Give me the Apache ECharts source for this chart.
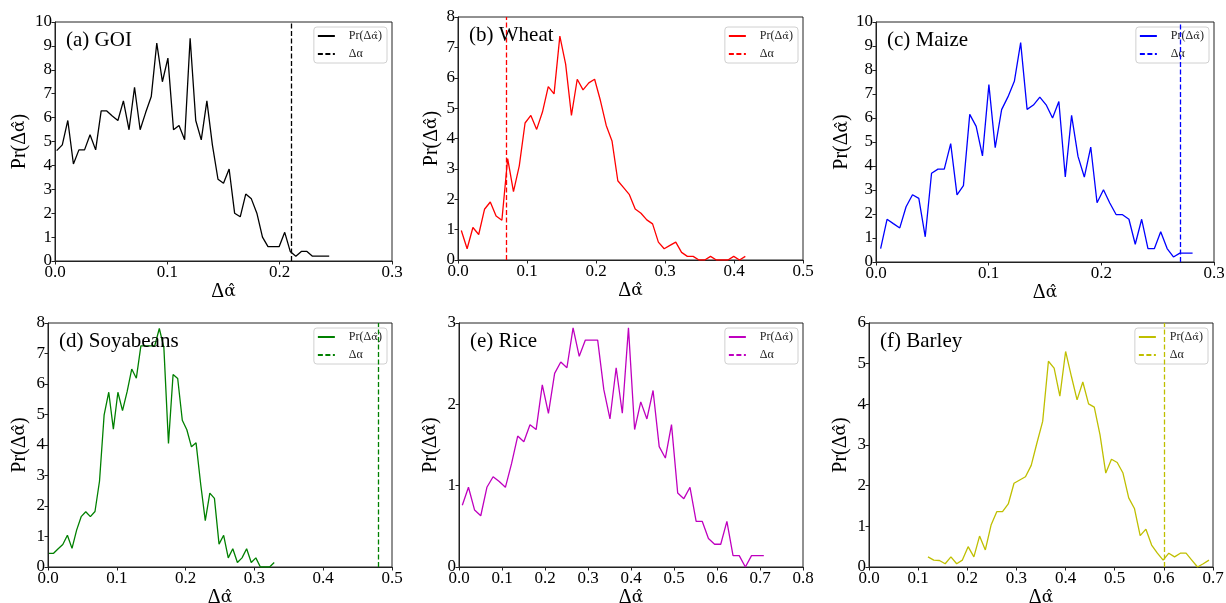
<!DOCTYPE html>
<html>
<head>
<meta charset="utf-8">
<title>Distribution of Δα̂ by crop</title>
<script src="https://cdn.jsdelivr.net/npm/echarts@6/dist/echarts.min.js"></script>
<style>
  html, body { margin: 0; padding: 0; background: #fff; }
  #chart { width: 1226px; height: 603px; }
</style>
</head>
<body>
<div id="chart"></div>
<script>
// ---- Histogram bin centres (Δα̂) and probability densities Pr(Δα̂) ----
const goiX = [0.0015,0.0065,0.0114,0.0164,0.0213,0.0263,0.0312,0.0362,0.0411,0.0461,0.0510,0.0560,0.0609,0.0659,0.0708,0.0758,0.0807,0.0857,0.0906,0.0956,0.1005,0.1055,0.1104,0.1154,0.1203,0.1253,0.1302,0.1352,0.1401,0.1451,0.1500,0.1550,0.1599,0.1649,0.1698,0.1748,0.1797,0.1847,0.1896,0.1946,0.1995,0.2045,0.2094,0.2144,0.2193,0.2243,0.2292,0.2342,0.2391,0.2441];
const goiPr = [4.62,4.86,5.88,4.06,4.65,4.65,5.28,4.65,6.28,6.28,6.07,5.88,6.70,5.49,7.27,5.49,6.21,6.88,9.12,7.50,8.49,5.49,5.67,5.07,9.32,5.88,5.07,6.70,4.86,3.42,3.25,3.85,2.00,1.85,2.80,2.60,2.00,1.00,0.60,0.60,0.60,1.20,0.40,0.20,0.40,0.40,0.20,0.20,0.20,0.20];

const wheatX = [0.0048,0.0132,0.0216,0.0300,0.0384,0.0468,0.0552,0.0636,0.0720,0.0804,0.0888,0.0972,0.1056,0.1140,0.1224,0.1308,0.1392,0.1476,0.1560,0.1644,0.1728,0.1812,0.1896,0.1980,0.2064,0.2148,0.2232,0.2316,0.2400,0.2484,0.2568,0.2652,0.2736,0.2820,0.2904,0.2988,0.3072,0.3156,0.3240,0.3324,0.3408,0.3492,0.3576,0.3660,0.3744,0.3828,0.3912,0.3996,0.4080,0.4164];
const wheatPr = [0.97,0.37,1.07,0.84,1.67,1.91,1.45,1.31,3.34,2.25,3.10,4.51,4.76,4.30,4.87,5.71,5.47,7.37,6.45,4.76,5.95,5.60,5.83,5.95,5.25,4.43,3.92,2.61,2.38,2.15,1.68,1.54,1.32,1.19,0.59,0.37,0.48,0.59,0.25,0.12,0.12,0,0,0.12,0,0,0,0.12,0,0.12];

const maizeX = [0.0041,0.0098,0.0154,0.0211,0.0267,0.0324,0.0380,0.0437,0.0493,0.0550,0.0606,0.0663,0.0719,0.0776,0.0832,0.0889,0.0945,0.1002,0.1058,0.1115,0.1171,0.1228,0.1284,0.1341,0.1397,0.1454,0.1510,0.1567,0.1623,0.1680,0.1736,0.1793,0.1849,0.1906,0.1962,0.2019,0.2075,0.2132,0.2188,0.2245,0.2301,0.2358,0.2414,0.2471,0.2527,0.2584,0.2640,0.2697,0.2753,0.2810];
const maizePr = [0.56,1.78,1.60,1.42,2.30,2.80,2.65,1.05,3.70,3.87,3.87,4.93,2.80,3.18,6.15,5.65,4.42,7.39,4.76,6.35,6.88,7.53,9.14,6.36,6.54,6.87,6.55,6.00,6.69,3.54,6.11,4.40,3.54,4.79,2.47,3.01,2.46,1.97,1.97,1.78,0.74,1.78,0.56,0.56,1.26,0.56,0.21,0.37,0.37,0.37];

const soyX = [0.0015,0.0081,0.0148,0.0215,0.0282,0.0349,0.0416,0.0482,0.0549,0.0616,0.0683,0.0749,0.0816,0.0883,0.0950,0.1016,0.1083,0.1150,0.1217,0.1284,0.1350,0.1417,0.1484,0.1551,0.1618,0.1684,0.1751,0.1818,0.1885,0.1952,0.2018,0.2085,0.2152,0.2219,0.2286,0.2352,0.2419,0.2486,0.2553,0.2620,0.2686,0.2753,0.2820,0.2887,0.2954,0.3021,0.3087,0.3154,0.3221,0.3288];
const soyPr = [0.45,0.45,0.60,0.74,1.04,0.61,1.21,1.65,1.81,1.65,1.82,2.82,4.99,5.73,4.52,5.73,5.13,5.75,6.49,6.19,7.25,7.25,7.25,7.25,7.82,7.20,4.05,6.31,6.18,4.81,4.50,3.94,4.07,2.72,1.52,2.42,2.25,0.75,1.04,0.30,0.60,0.15,0.30,0.60,0.15,0.30,0,0,0,0.15];

const riceX = [0.0077,0.0220,0.0363,0.0506,0.0649,0.0793,0.0936,0.1079,0.1222,0.1365,0.1508,0.1651,0.1794,0.1937,0.2080,0.2224,0.2367,0.2510,0.2653,0.2796,0.2939,0.3082,0.3225,0.3368,0.3511,0.3655,0.3798,0.3941,0.4084,0.4227,0.4370,0.4513,0.4656,0.4799,0.4942,0.5086,0.5229,0.5372,0.5515,0.5658,0.5801,0.5944,0.6087,0.6230,0.6373,0.6517,0.6660,0.6803,0.6946,0.7089];
const ricePr = [0.76,0.98,0.70,0.63,0.98,1.11,1.05,0.98,1.27,1.61,1.54,1.75,1.69,2.24,1.89,2.38,2.52,2.45,2.94,2.59,2.79,2.79,2.79,2.18,1.82,2.45,1.89,2.94,1.69,2.03,1.82,2.17,1.48,1.34,1.75,0.91,0.84,0.98,0.56,0.56,0.35,0.28,0.28,0.56,0.14,0.14,0.00,0.14,0.14,0.14];

const barleyX = [0.1200,0.1317,0.1433,0.1550,0.1667,0.1784,0.1900,0.2017,0.2134,0.2250,0.2367,0.2484,0.2600,0.2717,0.2834,0.2951,0.3067,0.3184,0.3301,0.3417,0.3534,0.3651,0.3767,0.3884,0.4001,0.4118,0.4234,0.4351,0.4468,0.4584,0.4701,0.4818,0.4934,0.5051,0.5168,0.5285,0.5401,0.5518,0.5635,0.5751,0.5868,0.5985,0.6101,0.6218,0.6335,0.6452,0.6568,0.6685,0.6802,0.6918];
const barleyPr = [0.25,0.17,0.16,0.08,0.25,0.08,0.17,0.50,0.25,0.76,0.42,1.03,1.36,1.36,1.55,2.06,2.14,2.22,2.50,3.05,3.58,5.06,4.89,4.20,5.30,4.69,4.11,4.55,4.01,3.93,3.25,2.31,2.65,2.57,2.31,1.70,1.44,0.77,0.93,0.54,0.34,0.17,0.34,0.25,0.34,0.34,0.17,0.00,0.08,0.17];

// Observed Δα for each crop (rice lies beyond its plotted range)
const deltaAlpha = [0.2137, 0.0726, 0.2693, 0.4825, null, 0.6018];

// Panel titles and axis extents
const panelTitles = ['(a) GOI', '(b) Wheat', '(c) Maize', '(d) Soyabeans', '(e) Rice', '(f) Barley'];
const xMax = [0.3, 0.5, 0.3, 0.5, 0.8, 0.7];
const yMax = [10, 8, 10, 8, 3, 6];
const xStep = [0.1, 0.1, 0.1, 0.1, 0.1, 0.1];
const yStep = [1, 1, 1, 1, 1, 1];
const panelX = [goiX, wheatX, maizeX, soyX, riceX, barleyX];
const panelPr = [goiPr, wheatPr, maizePr, soyPr, ricePr, barleyPr];
const panelColors = ['#000000', '#ff0000', '#0000ff', '#008000', '#bf00bf', '#bfbf00'];

// ---- Layout ----
const W = 1226;
const grids = [
  { left: 55,  top: 22,  width: 337, height: 239 },
  { left: 458, top: 17,  width: 345, height: 243 },
  { left: 876, top: 22,  width: 338, height: 240 },
  { left: 48,  top: 323, width: 344, height: 244 },
  { left: 459, top: 323, width: 344, height: 244 },
  { left: 869, top: 323, width: 344, height: 244 }
];
const yNameGap = [25, 16, 23, 18, 18, 18];
const legendTop = [27, 27, 27, 328, 328, 328];

const FONT = '"Liberation Serif", "Times New Roman", serif';
// DejaVu Serif positions the combining circumflex over α correctly
const HAT_FONT = '"DejaVu Serif", serif';
const INK = '#222';
const HAT = 'α\u0302';

// Rich-text pieces: serif text with the hatted α set in a font that stacks the accent
const PR_RICH = '{s|Pr(Δ}{h|' + HAT + '}{s|)}';
const DAHAT_RICH = '{s|Δ}{h|' + HAT + '}';
const DA_RICH = '{s|Δα}';

function richStyles(size, hatSize) {
  return {
    s: { fontFamily: FONT, fontSize: size, color: '#000' },
    h: { fontFamily: HAT_FONT, fontSize: hatSize, color: '#000' }
  };
}

const option = {
  animation: false,
  backgroundColor: '#fff',
  grid: [], xAxis: [], yAxis: [], title: [], legend: [], series: []
};

grids.forEach((g, i) => {
  option.grid.push({
    left: g.left, top: g.top, width: g.width, height: g.height,
    show: true, borderColor: INK, borderWidth: 1, backgroundColor: 'transparent',
    containLabel: false, outerBoundsMode: 'none'
  });

  option.xAxis.push({
    gridIndex: i, type: 'value', min: 0, max: xMax[i], interval: xStep[i],
    name: DAHAT_RICH, nameLocation: 'middle', nameGap: 18,
    nameTextStyle: { fontFamily: FONT, fontSize: 20, color: '#000', rich: richStyles(20, 17) },
    axisLine: { show: true, onZero: false, lineStyle: { color: INK, width: 1 } },
    axisTick: { show: true, inside: false, length: 3.5, lineStyle: { color: INK, width: 1 } },
    axisLabel: {
      margin: 3, fontFamily: FONT, fontSize: 17, color: '#000',
      showMinLabel: true, showMaxLabel: true,
      formatter: v => v.toFixed(1)
    },
    splitLine: { show: false }
  });

  option.yAxis.push({
    gridIndex: i, type: 'value', min: 0, max: yMax[i], interval: yStep[i],
    name: PR_RICH, nameLocation: 'middle', nameRotate: 90, nameGap: yNameGap[i],
    nameTextStyle: { fontFamily: FONT, fontSize: 20, color: '#000', rich: richStyles(20, 17) },
    axisLine: { show: true, onZero: false, lineStyle: { color: INK, width: 1 } },
    axisTick: { show: true, inside: false, length: 3.5, lineStyle: { color: INK, width: 1 } },
    axisLabel: {
      margin: 3, fontFamily: FONT, fontSize: 17, color: '#000',
      showMinLabel: true, showMaxLabel: true
    },
    splitLine: { show: false }
  });

  option.title.push({
    text: panelTitles[i], left: g.left + 11, top: g.top + 8, padding: 0,
    textStyle: { fontFamily: FONT, fontSize: 21, fontWeight: 'normal', color: '#000' }
  });

  const prName = 'pr' + i;
  const daName = 'da' + i;

  option.legend.push({
    data: [prName, daName],
    orient: 'vertical',
    right: W - (g.left + g.width) + 5,
    top: legendTop[i],
    backgroundColor: '#fff',
    borderColor: '#d0d0d0', borderWidth: 1, borderRadius: 3,
    padding: [3, 5, 3, 3],
    itemWidth: 17, itemHeight: 10, itemGap: 6,
    selectedMode: false,
    itemStyle: { opacity: 0 },
    textStyle: {
      fontFamily: FONT, fontSize: 12, color: '#222', padding: [0, 0, 0, 9],
      rich: {
        s: { fontFamily: FONT, fontSize: 12, color: '#222' },
        h: { fontFamily: HAT_FONT, fontSize: 10, color: '#222' }
      }
    },
    formatter: name => (name.indexOf('pr') === 0 ? PR_RICH : DA_RICH)
  });

  const color = panelColors[i];
  option.series.push({
    name: prName, type: 'line', xAxisIndex: i, yAxisIndex: i,
    data: panelX[i].map((x, k) => [x, panelPr[i][k]]),
    symbol: 'none', color: color,
    lineStyle: { color: color, width: 1.3 },
    z: 3
  });

  const da = {
    name: daName, type: 'line', xAxisIndex: i, yAxisIndex: i,
    data: [], symbol: 'none', color: color,
    lineStyle: { color: color, width: 1.3, type: [5, 2.5] },
    z: 3
  };
  if (deltaAlpha[i] !== null) {
    da.markLine = {
      silent: true, symbol: ['none', 'none'], animation: false,
      label: { show: false },
      lineStyle: { color: color, width: 1.3, type: [5, 2.5] },
      data: [{ xAxis: deltaAlpha[i] }]
    };
  }
  option.series.push(da);
});

const chart = echarts.init(document.getElementById('chart'), null, { renderer: 'canvas' });
chart.setOption(option);
</script>
</body>
</html>
